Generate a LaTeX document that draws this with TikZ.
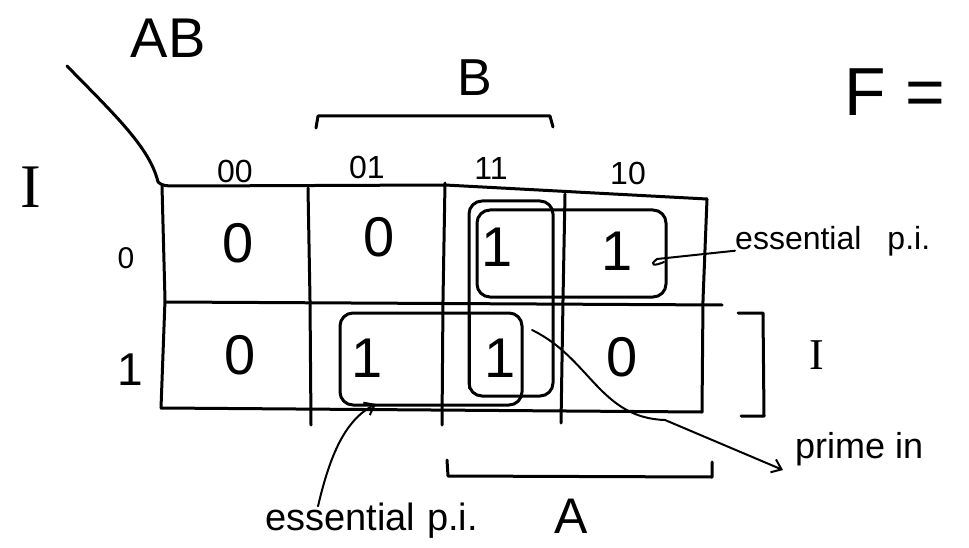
\documentclass[tikz,border=0pt]{standalone}
\usepackage{fontspec}
\setmainfont{Liberation Sans}
\newfontfamily\romanI{Liberation Serif}
\usetikzlibrary{arrows.meta}
\begin{document}
\begin{tikzpicture}[x=1pt,y=-1pt,
  ink/.style={line width=3pt, line cap=round, line join=round},
  thin ink/.style={line width=2pt, line cap=round, line join=round},
  group/.style={ink, rounded corners=13pt},
  txt/.style={inner sep=0pt, anchor=center},
  colhead/.style={txt, font=\fontsize{32}{32}\selectfont},
  cellval/.style={txt, font=\fontsize{56}{56}\selectfont},
  note/.style={inner sep=0pt, anchor=base west},
  barb/.style={-{Straight Barb[length=9pt,width=14pt,line width=2pt]}}]
\useasboundingbox (0,0) rectangle (969,548);

% variable labels
\node[txt, font=\fontsize{56}{56}\selectfont] (ab) at (168,38) {AB};
\node[txt, font=\fontsize{52}{52}\selectfont] (bvar) at (475,78) {B};
\node[txt, font=\fontsize{68}{68}\selectfont] (fun) at (895,92) {F =};
\node[txt, font=\fontsize{62}{62}\romanI] (cvar) at (31,187) {I};
\node[txt, font=\fontsize{44}{44}\romanI] (cvar2) at (817,355) {I};
\node[txt, font=\fontsize{50}{50}\selectfont] (avar) at (571,516) {A};

% diagonal corner stroke
\draw[ink] (67,66) .. controls (115,115) and (150,148) .. (158,182);

% grid outline
\draw[ink] (158,182) .. controls (163,186) .. (185,186) -- (445,185) -- (707,199);
\draw[ink] (162,186) -- (165,300) -- (161,408);
\draw[ink] (161,408) -- (702,412);
\draw[ink] (707,199) -- (703,300) -- (702,412);
\draw[ink] (166,302) -- (722,305);
\draw[ink] (308,188) -- (310,300) -- (311,425);
\draw[ink] (445,183) -- (443,300) -- (442,425);
\draw[ink] (565,194) -- (563,300) -- (561,423);

% range brackets
\draw[ink] (316,128) -- (318,116) -- (550,116) -- (553,127);
\draw[ink] (447,460) -- (448,476) -- (712,477) -- (712,462);
\draw[ink] (738,313) -- (763,313) -- (764,416) -- (741,416);

% column and row headings
\node[colhead] (c00) at (235,171) {00};
\node[colhead] (c01) at (367,167) {01};
\node[colhead] (c11) at (491,168) {11};
\node[colhead] (c10) at (628,173) {10};
\node[txt, font=\fontsize{30}{30}\selectfont] (r0) at (126,258) {0};
\node[txt, font=\fontsize{46}{46}\selectfont] (r1) at (130,370) {1};

% cell values
\node[cellval] (m0) at (238,243) {0};
\node[cellval] (m2) at (379,237) {0};
\node[cellval] (m6) at (497,247) {1};
\node[cellval] (m4) at (617,251) {1};
\node[cellval] (m1) at (240,355) {0};
\node[cellval] (m3) at (367,358) {1};
\node[cellval] (m7) at (500,358) {1};
\node[cellval] (m5) at (622,357) {0};

% groupings
\draw[group] (469,201) rectangle (553,396);
\draw[group] (477,210) rectangle (666,297);
\draw[group] (340,313) rectangle (522,405);
\draw[group] (469,315) -- (469,388);

% annotations
\node[note, font=\fontsize{32}{32}\selectfont] (ep1) at (735,250) {essential\hspace{26pt}p.i.};
\node[note, font=\fontsize{38}{38}\selectfont] (ep2) at (265,530) {essential\hspace{12pt}p.i.};
\node[note, font=\fontsize{36}{36}\selectfont] (pi) at (795,458) {prime in};

\coordinate (hook1) at (657,259);
\coordinate (tip2) at (376,404);
\coordinate (pstart) at (532,330);

\draw[thin ink] ([yshift=-9pt]ep1.west) -- (hook1) .. controls (648,266) and (655,266) .. (664,262);
\draw[thin ink, barb] ([xshift=53pt,yshift=-4pt]ep2.north west) .. controls (330,455) and (345,420) .. (tip2);
\draw[thin ink, barb] (pstart) .. controls (590,358) and (600,418) .. (665,420) -- ([xshift=-12pt,yshift=-12pt]pi.base west);
\end{tikzpicture}
\end{document}
